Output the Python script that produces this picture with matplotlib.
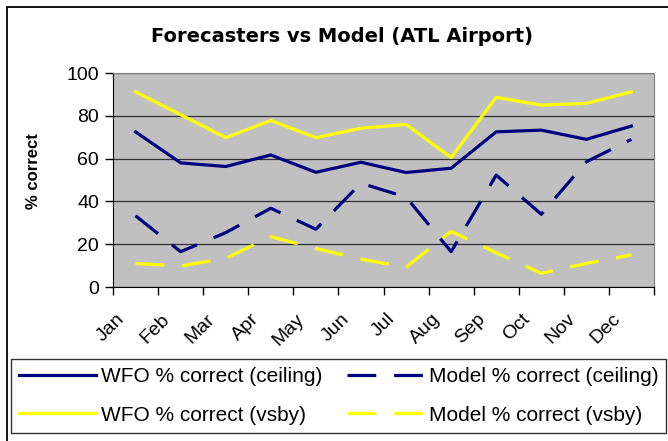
import numpy as np
import matplotlib
matplotlib.use("Agg")
from matplotlib import pyplot as plt
from matplotlib.patches import Rectangle
from matplotlib.transforms import ScaledTranslation

months = ["Jan", "Feb", "Mar", "Apr", "May", "Jun", "Jul", "Aug", "Sep", "Oct", "Nov", "Dec"]

wfo_ceiling = [72.5, 58, 56.3, 61.7, 53.6, 58.3, 53.5, 55.5, 72.5, 73.3, 69, 75.2]
model_ceiling = [33.3, 16.5, 25.4, 36.8, 27, 48.5, 42, 16.5, 52.3, 34, 58.5, 69]
wfo_vsby = [91.2, 80.5, 69.8, 77.8, 69.8, 74.2, 76, 60.5, 88.6, 85, 85.8, 91.2]
model_vsby = [11, 9.8, 13.4, 23.5, 18, 13, 9.2, 26, 16, 6.4, 11, 15]

navy = "#000080"
yellow = "#FFFF00"

plt.rcParams["font.family"] = "Liberation Sans"

W, H = 668, 441
fig = plt.figure(figsize=(W / 100, H / 100), dpi=100)
ax = fig.add_axes([113 / W, 1 - 287 / H, (654 - 113) / W, (287 - 73) / H])
ax.set_facecolor("#C0C0C0")

x = np.arange(len(months))
dash = (0, (9, 5.6))
l1, = ax.plot(x, wfo_ceiling, color=navy, lw=2.3, label="WFO % correct (ceiling)")
l2, = ax.plot(x, model_ceiling, color=navy, lw=2.3, linestyle=dash, label="Model % correct (ceiling)")
l3, = ax.plot(x, wfo_vsby, color=yellow, lw=2.3, label="WFO % correct (vsby)")
l4, = ax.plot(x, model_vsby, color=yellow, lw=2.3, linestyle=dash, label="Model % correct (vsby)")

ax.set_xlim(-0.5, len(months) - 0.5)
ax.set_ylim(0, 100)
ax.set_yticks(np.arange(0, 101, 20))
ax.yaxis.grid(True, color="#303030", lw=0.9)
ax.set_axisbelow(True)
ax.tick_params(axis="y", labelsize=14, length=6, width=1, pad=4)

ax.set_xticks(x)
ax.set_xticks(np.arange(-0.5, len(months), 1), minor=True)
ax.tick_params(axis="x", which="major", length=0, pad=17)
ax.tick_params(axis="x", which="minor", length=6, width=1)
ax.set_xticklabels(months, fontsize=14, rotation=45, ha="right")
shift = ScaledTranslation(-8 / 100, 0, fig.dpi_scale_trans)
for lab in ax.get_xticklabels():
    lab.set_transform(lab.get_transform() + shift)

for s in ["top", "right"]:
    ax.spines[s].set_color("#808080")
for s in ["left", "bottom"]:
    ax.spines[s].set_color("black")

fig.text(33 / W, 1 - 171 / H, "% correct", rotation=90, fontsize=12, fontweight="bold",
         ha="center", va="center")
fig.text(342 / W, 1 - 37 / H, "Forecasters vs Model (ATL Airport)", fontsize=14,
         fontweight="bold", family="DejaVu Sans", ha="center", va="center")

leg = fig.legend([l1, l3, l2, l4], [l1.get_label(), l3.get_label(), l2.get_label(), l4.get_label()],
                 loc="upper left", bbox_to_anchor=(11 / W, 1 - 359 / H), ncol=2,
                 fontsize=15, frameon=True, fancybox=False, borderpad=0.38,
                 handlelength=3.7, handletextpad=0.25, columnspacing=1.15,
                 labelspacing=0.95, borderaxespad=0)
leg.get_frame().set_edgecolor("black")
leg.get_frame().set_linewidth(1)

fig.patches.append(Rectangle((7 / W, -0.1), 1.2, 1 - 7 / H + 0.1, transform=fig.transFigure,
                             fill=False, edgecolor="black", lw=1.3))

fig.savefig("out.png", dpi=100)
